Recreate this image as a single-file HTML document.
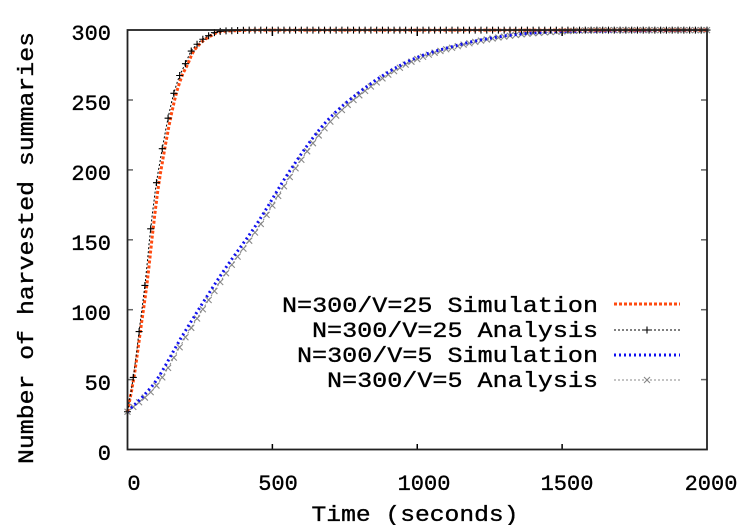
<!DOCTYPE html>
<html><head><meta charset="utf-8"><style>
html,body{margin:0;padding:0;background:#fff;width:750px;height:525px;overflow:hidden}
text{font-family:"Liberation Mono",monospace;fill:#000;stroke:#000;stroke-width:0.35}
</style></head><body>
<svg id="s" width="750" height="525" xmlns="http://www.w3.org/2000/svg">
<g font-size="22" text-anchor="end">
<text x="111" y="40">300</text>
<text x="111" y="110">250</text>
<text x="111" y="180">200</text>
<text x="111" y="250">150</text>
<text x="111" y="320">100</text>
<text x="111" y="390">50</text>
<text x="111" y="460">0</text>
</g>
<g font-size="22" text-anchor="middle">
<text x="134" y="490">0</text>
<text x="278" y="490">500</text>
<text x="424" y="490">1000</text>
<text x="567" y="490">1500</text>
<text x="711" y="490">2000</text>
<text x="415" y="521" textLength="207" lengthAdjust="spacingAndGlyphs">Time (seconds)</text>
<text transform="translate(33,248) rotate(-90)" textLength="432" lengthAdjust="spacingAndGlyphs">Number of harvested summaries</text>
</g>
<g id="ticks" stroke="#666" stroke-width="1.5"></g>
<g id="series"></g>
<rect x="127.5" y="30" width="579.5" height="419.5" fill="none" stroke="#222" stroke-width="1.8"/>
<g font-size="22" text-anchor="end">
<text x="598" y="312" textLength="316" lengthAdjust="spacingAndGlyphs">N=300/V=25 Simulation</text>
<text x="598" y="337" textLength="286" lengthAdjust="spacingAndGlyphs">N=300/V=25 Analysis</text>
<text x="598" y="362" textLength="301" lengthAdjust="spacingAndGlyphs">N=300/V=5 Simulation</text>
<text x="598" y="387" textLength="271" lengthAdjust="spacingAndGlyphs">N=300/V=5 Analysis</text>
</g>
<g id="leg"></g>
</svg>
<script>
var NS="http://www.w3.org/2000/svg";
function X(t){return 127.5+t*0.28975}
function Y(v){return 449.5-v*1.398}
function el(p,tag,a){var e=document.createElementNS(NS,tag);for(var k in a)e.setAttribute(k,a[k]);p.appendChild(e);return e}
var tk=document.getElementById('ticks');
for(var v=50;v<300;v+=50){el(tk,'line',{x1:127.5,x2:133,y1:Y(v),y2:Y(v)});el(tk,'line',{x1:701,x2:707,y1:Y(v),y2:Y(v)});}
for(var t=500;t<2000;t+=500){el(tk,'line',{x1:X(t),x2:X(t),y1:449.5,y2:444,stroke:'#000'});el(tk,'line',{x1:X(t),x2:X(t),y1:30,y2:36,stroke:'#000'});}
var A25=[[0,27],[21,53],[41,86],[62,121],[79,156],[98,188],[119,214],[139,236],[159,254],[179,267],[200,276],[217,284],[236,289],[257,293],[280,296],[303,298.4],[365,299.6],[450,300],[2000,300]];
var A5=[[0,27],[101,46],[205,82],[343,127],[459,161],[573,199],[689,232],[804,254],[976,277],[1149,289],[1321,296],[1494,299],[1650,300],[2000,300]];
function mono(tab){var n=tab.length,d=[],m=[];for(var i=0;i<n-1;i++)d.push((tab[i+1][1]-tab[i][1])/(tab[i+1][0]-tab[i][0]));
m[0]=d[0];m[n-1]=d[n-2];for(var i=1;i<n-1;i++){m[i]=(d[i-1]*d[i]<=0)?0:(d[i-1]+d[i])/2;}
for(var i=0;i<n-1;i++){if(d[i]==0){m[i]=0;m[i+1]=0;continue;}var a=m[i]/d[i],b=m[i+1]/d[i],s=a*a+b*b;if(s>9){var tt=3/Math.sqrt(s);m[i]=tt*a*d[i];m[i+1]=tt*b*d[i];}}
return function(t){for(var i=1;i<n;i++){if(t<=tab[i][0]){var x0=tab[i-1][0],x1=tab[i][0],h=x1-x0,u=(t-x0)/h,y0=tab[i-1][1],y1=tab[i][1];
var h00=2*u*u*u-3*u*u+1,h10=u*u*u-2*u*u+u,h01=-2*u*u*u+3*u*u,h11=u*u*u-u*u;return h00*y0+h10*h*m[i-1]+h01*y1+h11*h*m[i];}}return tab[n-1][1];}}
var F25=mono(A25),F5=mono(A5);
function path(fn,dt,sx,end){var d='';for(var t=0;t<=end;t+=dt){var k=Math.min(1,t/80);d+=(t?'L':'M')+(X(t)+sx*k).toFixed(1)+','+(Y(fn(t))).toFixed(1);}return d}
var g=document.getElementById('series');
el(g,'path',{d:path(F5,5,0,2000),fill:'none',stroke:'#888','stroke-width':1,'stroke-dasharray':'2,2'});
for(var t=0;t<=2000;t+=20){var x=X(t),y=Y(F5(t));el(g,'path',{d:'M'+(x-3)+','+(y-3)+'L'+(x+3)+','+(y+3)+'M'+(x-3)+','+(y+3)+'L'+(x+3)+','+(y-3),stroke:'#888','stroke-width':1.1});}
el(g,'path',{d:path(F5,5,-4,1500)+'L'+X(2000)+','+Y(300),fill:'none',stroke:'#1010f0','stroke-width':3,'stroke-dasharray':'2,3'});
el(g,'path',{d:path(F25,2,2.5,500)+'L'+X(2000)+','+Y(300),fill:'none',stroke:'#ff4a10','stroke-width':3,'stroke-dasharray':'3,2'});
el(g,'path',{d:path(F25,2,0,2000),fill:'none',stroke:'#000','stroke-width':1,'stroke-dasharray':'2,2'});
for(var t=0;t<=2000;t+=20){var x=X(t),y=Y(F25(t));el(g,'path',{d:'M'+(x-3.5)+','+y+'L'+(x+3.5)+','+y+'M'+x+','+(y-3.5)+'L'+x+','+(y+3.5),stroke:'#000','stroke-width':1.1});}
var L=document.getElementById('leg');
el(L,'line',{x1:614,x2:680,y1:304,y2:304,stroke:'#ff4a10','stroke-width':3,'stroke-dasharray':'3,2'});
el(L,'line',{x1:614,x2:680,y1:330,y2:330,stroke:'#000','stroke-width':1,'stroke-dasharray':'2,2'});
el(L,'path',{d:'M643.5,330L650.5,330M647,326.5L647,333.5',stroke:'#000','stroke-width':1.1});
el(L,'line',{x1:614,x2:680,y1:355,y2:355,stroke:'#1010f0','stroke-width':3,'stroke-dasharray':'2,3'});
el(L,'line',{x1:614,x2:681,y1:380,y2:380,stroke:'#888','stroke-width':1,'stroke-dasharray':'2,2'});
el(L,'path',{d:'M644,377L650,383M644,383L650,377',stroke:'#888','stroke-width':1.1});
</script>
</body></html>
